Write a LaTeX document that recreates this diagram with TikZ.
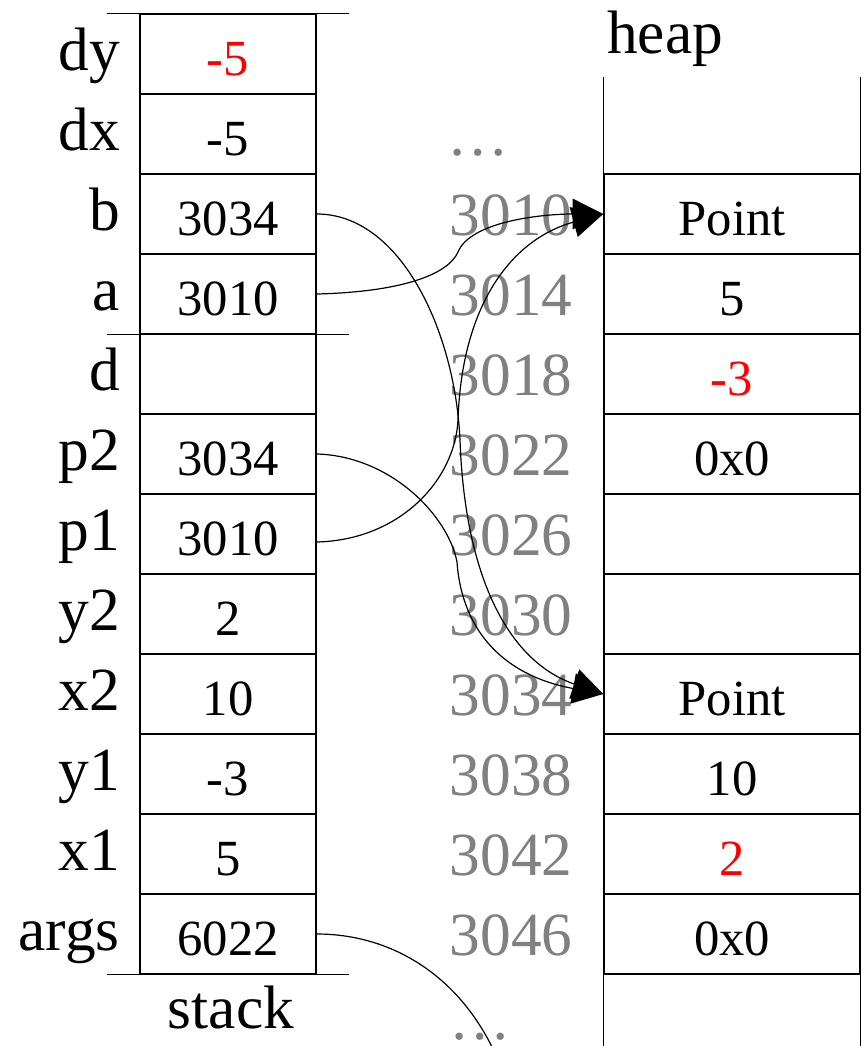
\documentclass[tikz,border=0pt]{standalone}
\usepackage{fontspec}
\setmainfont{Liberation Serif}
\usetikzlibrary{arrows.meta}
\tikzset{
  cell/.style={draw=black,line width=1.1pt,minimum width=132pt,minimum height=60pt,inner sep=0pt,
    text height=31.5pt,text depth=0pt,font=\fontsize{38}{40}\selectfont},
  hcell/.style={cell,minimum width=192pt},
  vname/.style={anchor=east,inner sep=0pt,text height=24pt,text depth=0pt,font=\fontsize{46}{50}\selectfont},
  addr/.style={inner sep=0pt,text height=31.5pt,text depth=0pt,text=black!50,font=\fontsize{46}{50}\selectfont},
  title/.style={inner sep=0pt,font=\fontsize{46}{50}\selectfont},
  wall/.style={line width=1.1pt,black},
  % pointer edges, graphviz-like splines
  ptr/.style={-{Triangle[length=23pt,width=23pt]},line width=0.9pt,black},
  ptrfree/.style={line width=0.9pt,black},
}
\newcommand{\red}[1]{\textcolor{red}{#1}}

\begin{document}
\begin{tikzpicture}[x=0.75pt,y=-0.75pt]
  \useasboundingbox (0,0) rectangle (866,1046);
  \clip (0,0) rectangle (866,1046);

  % stack frame
  \foreach \vname/\vval [count=\i] in {dy/\red{-5},dx/-5,b/3034,a/3010,d/{},p2/3034,p1/3010,
      y2/2,x2/10,y1/-3,x1/5,args/6022}{
    \node[cell] (s-\vname) at (228,{54+80*(\i-1)}) {\vval};
    \node[vname] (l-\vname) at (120,{54+80*(\i-1)}) {\vname};
  }
  \draw[wall,shorten <=-24pt,shorten >=-24pt] (s-dy.north west) -- (s-dy.north east);
  \draw[wall,shorten <=-24pt,shorten >=-24pt] (s-a.south west) -- (s-a.south east);
  \draw[wall,shorten <=-24pt,shorten >=-24pt] (s-args.south west) -- (s-args.south east);
  \node[title,anchor=base] (stacklbl) at (231,1028) {stack};

  % heap
  \foreach \hval [count=\i] in {Point,5,\red{-3},0x0,{},{},Point,10,\red{2},0x0}{
    \node[hcell] (h\i) at (732,{214+80*(\i-1)}) {\hval};
  }
  \draw[wall] (h1.north west) -- +(0,-96) (h1.north east) -- +(0,-96);
  \draw[wall] (h10.south west) -- +(0,80) (h10.south east) -- +(0,80);
  \node[title,anchor=base west] (heaplbl) at (607,53) {heap};

  % addresses
  \node[addr] (adots) at (478,134) {\dots};
  \foreach \adr [count=\i] in {3010,3014,3018,3022,3026,3030,3034,3038,3042,3046}{
    \node[addr] (a\adr) at (511,{214+80*(\i-1)}) {\adr};
  }
  \node[addr] (bdots) at (480,1018) {\dots};

  % pointers
  \draw[ptr] (s-a.east) .. controls (400,292) and (448,275) .. (458,252)
    .. controls (470,222) and (540,214) .. (h1.west);
  \draw[ptr] ([yshift=-6pt]s-p1.east) .. controls (400,540) and (455,480) .. (458,420)
    .. controls (462,300) and (515,238) .. (h1.west);
  \draw[ptr] (s-b.east) .. controls (400,214) and (455,330) .. (460,440)
    .. controls (465,580) and (510,662) .. (h7.west);
  \draw[ptr] (s-p2.east) .. controls (390,456) and (448,515) .. (457,562)
    .. controls (462,632) and (505,676) .. (h7.west);
  \coordinate (argsend) at (502,1070);
  \draw[ptrfree] (s-args.east) .. controls (400,934) and (470,985) .. (argsend);
\end{tikzpicture}
\end{document}
